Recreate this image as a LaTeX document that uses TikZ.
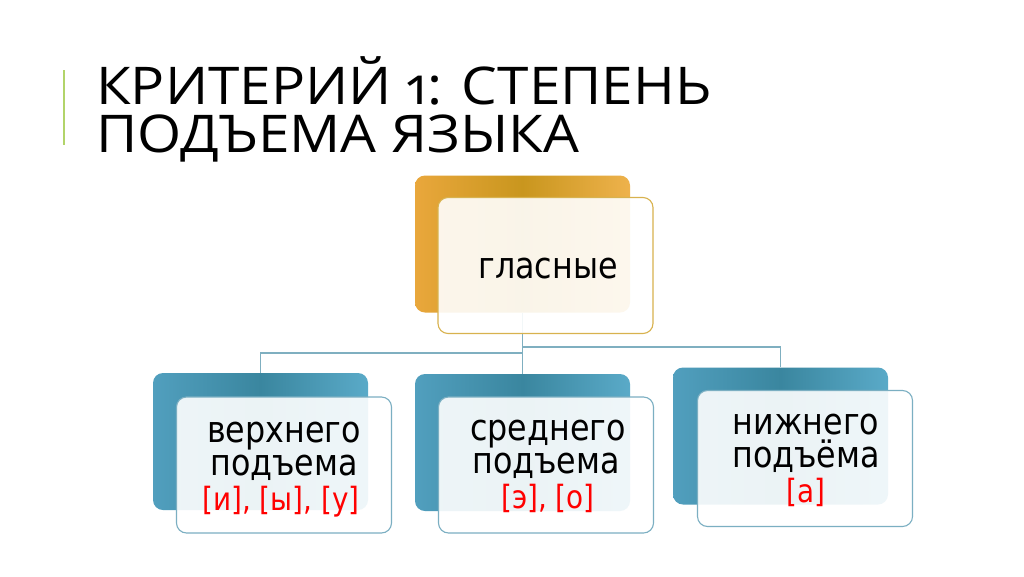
\documentclass[tikz,border=0pt]{standalone}
\usepackage{fontspec}
\setmainfont{DejaVu Sans}
\newfontfamily\boxfont[FakeStretch=0.87]{DejaVu Sans}
\newfontfamily\titlefont[Numbers=OldStyle,FakeStretch=1.09]{Open Sans}
\definecolor{orL}{HTML}{E9A73C}
\definecolor{orM}{HTML}{C9961E}
\definecolor{orR}{HTML}{EEB24C}
\definecolor{orB}{HTML}{D8B24E}
\definecolor{blL}{HTML}{519FBE}
\definecolor{blM}{HTML}{3A869F}
\definecolor{blR}{HTML}{5AAAC8}
\definecolor{blB}{HTML}{7BAFC2}
\definecolor{conn}{HTML}{7FAFC0}
\definecolor{bar}{HTML}{B2D46A}
\tikzset{
  backor/.style={rounded corners=10pt, minimum width=215pt, minimum height=137pt, left color=orL, right color=orR, middle color=orM, inner sep=0pt},
  backbl/.style={rounded corners=10pt, minimum width=215pt, minimum height=137pt, left color=blL, right color=blR, middle color=blM, inner sep=0pt},
  frontbox/.style={rounded corners=10pt, minimum width=215pt, minimum height=136pt, fill=white, fill opacity=0.9, line width=1.1pt, inner sep=0pt},
  conline/.style={draw=conn, line width=1.3pt},
  blk/.style={anchor=base, inner sep=0pt, font=\boxfont\fontsize{36.5}{36}\selectfont},
  redtxt/.style={anchor=base, inner sep=0pt, text=red, font=\boxfont\fontsize{32}{32}\selectfont},
  ttl/.style={anchor=base west, inner sep=0pt, font=\titlefont\fontsize{52}{48}\selectfont}
}
\begin{document}
\begin{tikzpicture}[x=1pt,y=-1pt]
\useasboundingbox (0,0) rectangle (1024,576);
\fill[white] (0,0) rectangle (1024,576);
% title
\draw[bar, line width=2pt] (64,70) -- (64,145);
\node[ttl] (t1) at (96,104) {КРИТЕРИЙ 1: СТЕПЕНЬ};
\node[ttl] (t2) at (96,152) {ПОДЪЕМА ЯЗЫКА};
% back boxes
\node[backor] (topback) at (522.5,244) {};
\node[backbl] (leftback) at (260.5,441.5) {};
\node[backbl] (midback) at (522.5,442.5) {};
\node[backbl] (rightback) at (780.5,436) {};
% connectors
\coordinate (jl) at (522.5,353);
\coordinate (jr) at (522.5,347);
\draw[conline] (topback.south) -- (midback.north);
\draw[conline] (jl) -| (leftback.north);
\draw[conline] (jr) -| (rightback.north);
% front boxes
\node[frontbox, draw=orB] (topfront) at (545.5,265.5) {};
\node[frontbox, draw=blB] (leftfront) at (284,465) {};
\node[frontbox, draw=blB] (midfront) at (546,465) {};
\node[frontbox, draw=blB] (rightfront) at (805,458.5) {};
% texts
\node[blk] (g) at (548,278) {гласные};
\node[blk] (l1) at (284,442) {верхнего};
\node[blk] (l2) at (284,475) {подъема};
\node[redtxt] (l3) at (281,510) {[и], [ы], [у]};
\node[blk] (m1) at (548,440) {среднего};
\node[blk] (m2) at (546,473) {подъема};
\node[redtxt] (m3) at (548,508) {[э], [о]};
\node[blk] (r1) at (806,434) {нижнего};
\node[blk] (r2) at (806,467) {подъёма};
\node[redtxt] (r3) at (806,502) {[а]};
\end{tikzpicture}
\end{document}
